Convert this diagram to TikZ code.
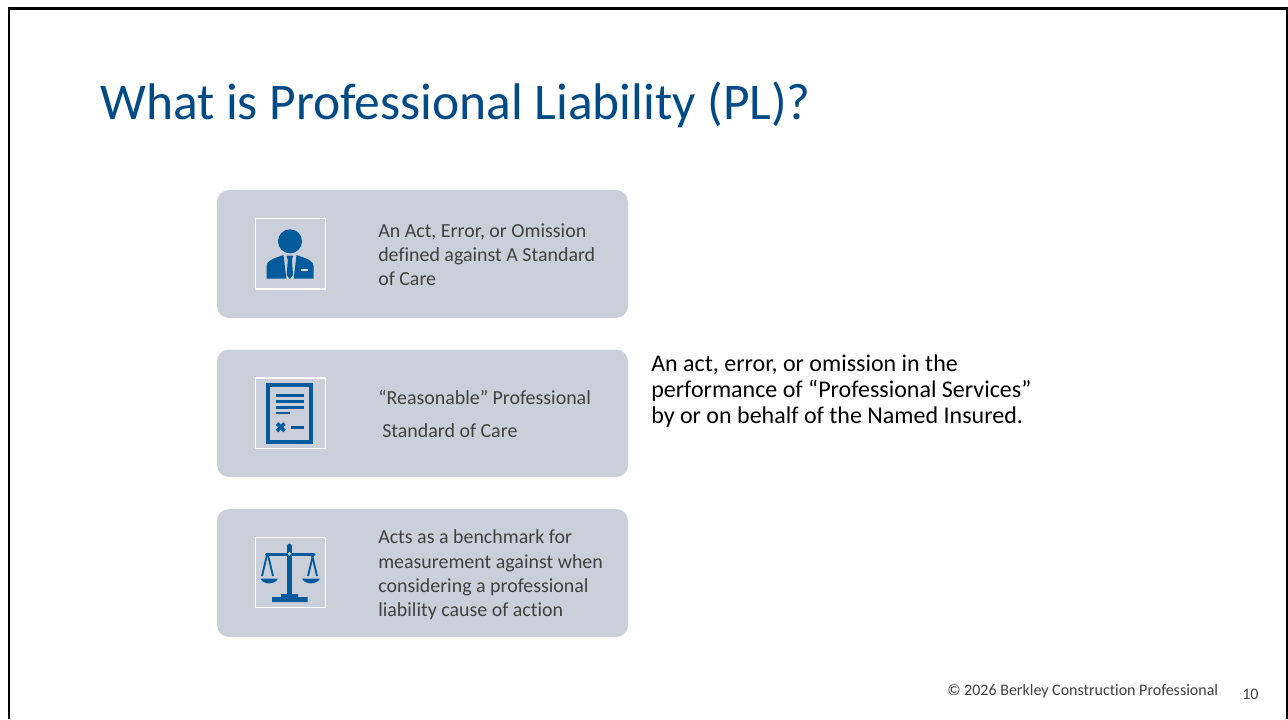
\documentclass[tikz,border=0pt]{standalone}
\usepackage{fontspec}
\setmainfont[Ligatures=NoCommon]{Carlito}
\definecolor{titleblue}{HTML}{004B87}
\definecolor{iconblue}{HTML}{005A9C}
\definecolor{boxgrey}{HTML}{CBCFD9}
\definecolor{bodygrey}{HTML}{404040}
\tikzset{
  x=0.75pt,y=-0.75pt,
  card/.style={fill=boxgrey,draw=none,rounded corners=9pt},
  iconframe/.style={draw=white,line width=0.9pt,fill=none},
  inkline/.style={draw=iconblue,line width=2.1pt},
  cardtext/.style={anchor=base west,inner sep=0pt,text=bodygrey,font=\fontsize{14.95pt}{18pt}\selectfont},
  bodytext/.style={anchor=base west,inner sep=0pt,text=black,font=\fontsize{18pt}{22pt}\selectfont},
  foot/.style={anchor=base west,inner sep=0pt,text=bodygrey,font=\fontsize{12pt}{14pt}\selectfont},
}
\begin{document}
\begin{tikzpicture}
\useasboundingbox (0,0) rectangle (1288,719);
\fill[white] (0,0) rectangle (1288,719);
% slide border
\fill[black] (8,7) rectangle (1288,9.5);
\fill[black] (8,7) rectangle (10.3,719);
\fill[black] (1285.5,7) rectangle (1288,719);
% title
\node[anchor=base west,inner sep=0pt,text=titleblue,font=\fontsize{38.6pt}{44pt}\selectfont] (title) at (100,119) {What is Professional Liability (PL)?};
% cards
\path[card] (217,190) rectangle (628,318);
\path[card] (217,349.5) rectangle (628,477);
\path[card] (217,509) rectangle (628,637);
% icon frames
\draw[iconframe] (255.2,218.5) rectangle (325.5,289);
\draw[iconframe] (255.2,378) rectangle (325.5,448.5);
\draw[iconframe] (255.2,537.5) rectangle (325.5,607.5);
% person icon
\fill[iconblue] (290,241.3) circle (12);
\fill[iconblue] (266.5,278.5) -- (266.5,266) .. controls (266.5,261) and (272,259) .. (283.5,255) -- (286.3,278.5) -- cycle;
\fill[iconblue] (313.5,278.5) -- (313.5,266) .. controls (313.5,261) and (308,259) .. (296.5,255) -- (293.7,278.5) -- cycle;
\fill[iconblue] (286.5,255.5) -- (293,255.5) -- (292,260) -- (293,275) -- (289.8,279) -- (286.7,275) -- (287.8,260) -- cycle;
\fill[white!60!boxgrey] (301,268.6) rectangle (307.5,270.8);
% document icon
\draw[iconblue,line width=3pt] (268.3,385.3) rectangle (311,441.5);
\draw[inkline] (276,395.5) -- (303.5,395.5);
\draw[inkline] (276,401.7) -- (303.5,401.7);
\draw[inkline] (276,407.3) -- (303.5,407.3);
\draw[inkline] (276,413) -- (289.5,413);
\draw[iconblue,line width=2.8pt] (277,423.5) -- (284.5,431);
\draw[iconblue,line width=2.8pt] (284.5,423.5) -- (277,431);
\draw[inkline] (291,427.5) -- (303.5,427.5);
% scales icon
\draw[iconblue,line width=3.6pt,line cap=round] (289.5,546) -- (289.5,596);
\draw[iconblue,line width=2.6pt,line cap=round] (266.5,554.5) -- (314,554.5);
\fill[boxgrey] (289.5,553.7) circle (1.8);
\draw[iconblue,line width=1.4pt] (267,555) -- (262,576);
\draw[iconblue,line width=1.4pt] (268,555) -- (273,576);
\draw[iconblue,line width=1.4pt] (313,555) -- (308,576);
\draw[iconblue,line width=1.4pt] (312,555) -- (317,576);
\fill[iconblue] (260.5,578.5) .. controls (263,585) and (275,585) .. (278,578.5) -- cycle;
\fill[iconblue] (302,578.5) .. controls (305,585) and (317,585) .. (320,578.5) -- cycle;
\fill[iconblue] (272,602) -- (272,597) -- (281,597) -- (281,594) -- (298,594) -- (298,597) -- (307.5,597) -- (307.5,602) -- cycle;
% card text
\node[cardtext] (t1) at (378,237) {An Act, Error, or Omission};
\node[cardtext] (t2) at (378,261.5) {defined against A Standard};
\node[cardtext] (t3) at (378,285.5) {of Care};
\node[cardtext] (t4) at (378,404.5) {“Reasonable” Professional};
\node[cardtext] (t5) at (382,437.5) {Standard of Care};
\node[cardtext] (t6) at (378,543.5) {Acts as a benchmark for};
\node[cardtext] (t7) at (378,568) {measurement against when};
\node[cardtext] (t8) at (378,592.5) {considering a professional};
\node[cardtext] (t9) at (378,616.5) {liability cause of action};
% body text
\node[bodytext] (b1) at (651,371) {An act, error, or omission in the};
\node[bodytext] (b2) at (651,397) {performance of “Professional Services”};
\node[bodytext] (b3) at (651,423) {by or on behalf of the Named Insured.};
% footer
\node[foot] (f1) at (947,695.5) {© 2026 Berkley Construction Professional};
\node[foot] (f2) at (1242,699) {10};
\end{tikzpicture}
\end{document}
